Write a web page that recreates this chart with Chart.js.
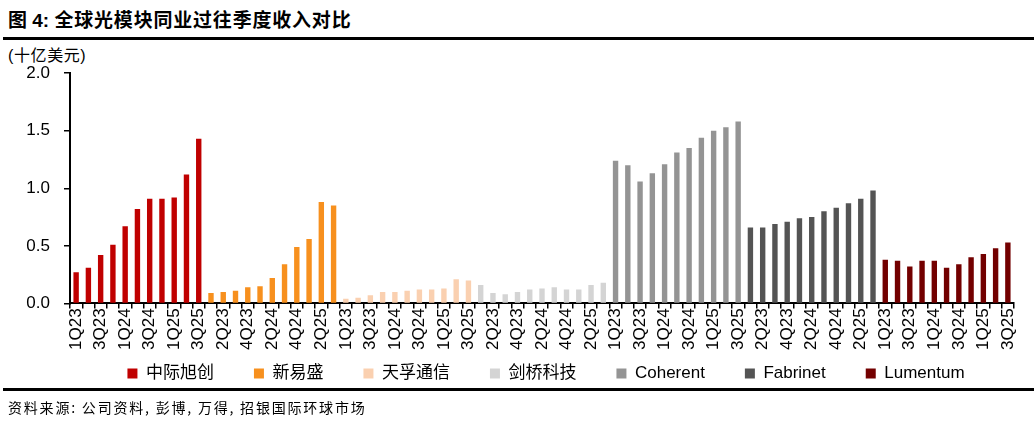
<!DOCTYPE html>
<html>
<head>
<meta charset="utf-8">
<script src="https://cdn.jsdelivr.net/npm/chart.js@4/dist/chart.umd.min.js"></script>
<style>
  body { margin: 0; width: 1034px; height: 429px; overflow: hidden; background: #fff; position: relative; font-family: "Liberation Sans", Arial, sans-serif; }
  #title { position: absolute; left: 8px; top: 5px; font-size: 19px; font-weight: bold; font-family: "Liberation Sans", "Noto Sans CJK SC", sans-serif; }
  #title .cn { font-family: "Noto Sans CJK SC", sans-serif; letter-spacing: 0.8px; }
  .rule { position: absolute; left: 3px; right: 0; height: 3px; background: #000; }
  #unit { position: absolute; left: 8px; top: 42px; font-size: 16px; letter-spacing: 0.6px; font-family: "Liberation Sans", "Noto Sans CJK SC", sans-serif; }
  #source { position: absolute; left: 8px; top: 397px; font-size: 14px; letter-spacing: 1.8px; font-family: "Noto Sans CJK SC", sans-serif; }
  #chart-wrapper { position: absolute; left: 0; top: 49px; width: 1034px; height: 368px; }
</style>
</head>
<body>
<div id="title">图 4: <span class="cn">全球光模块同业过往季度收入对比</span></div>
<div class="rule" style="top:37px"></div>
<div id="unit">(十亿美元)</div>
<div id="chart-wrapper"><canvas id="chart"></canvas></div>
<div class="rule" style="top:388px"></div>
<div id="source">资料来源: 公司资料, 彭博, 万得, 招银国际环球市场</div>
<script>
var quarters = ['1Q23', '2Q23', '3Q23', '4Q23', '1Q24', '2Q24', '3Q24', '4Q24', '1Q25', '2Q25', '3Q25'];
var companies = ['中际旭创', '新易盛', '天孚通信', '剑桥科技', 'Coherent', 'Fabrinet', 'Lumentum'];

// 十亿美元
var innolight = [0.27, 0.31, 0.42, 0.51, 0.67, 0.82, 0.91, 0.91, 0.92, 1.12, 1.43];
var eoptolink = [0.09, 0.10, 0.11, 0.14, 0.15, 0.22, 0.34, 0.49, 0.56, 0.88, 0.85];
var tfc = [0.04, 0.05, 0.07, 0.10, 0.10, 0.11, 0.12, 0.12, 0.13, 0.21, 0.20];
var cigtech = [0.16, 0.09, 0.08, 0.10, 0.12, 0.13, 0.14, 0.12, 0.12, 0.16, 0.18];
var coherent = [1.24, 1.20, 1.06, 1.13, 1.21, 1.31, 1.35, 1.44, 1.50, 1.53, 1.58];
var fabrinet = [0.66, 0.66, 0.69, 0.71, 0.74, 0.75, 0.80, 0.83, 0.87, 0.91, 0.98];
var lumentum = [0.38, 0.37, 0.32, 0.37, 0.37, 0.31, 0.34, 0.40, 0.43, 0.48, 0.53];

var colors = ['#C00000', '#F7901E', '#FAD0B0', '#D4D4D4', '#949494', '#545454', '#730000'];
var series = [innolight, eoptolink, tfc, cigtech, coherent, fabrinet, lumentum];

var labels = [];
companies.forEach(function() { labels = labels.concat(quarters); });

var datasets = series.map(function(values, i) {
  var data = [];
  series.forEach(function(s, j) {
    s.forEach(function(v) { data.push(i === j ? v : null); });
  });
  return {
    label: companies[i],
    data: data,
    backgroundColor: colors[i],
    borderWidth: 0,
    grouped: false,
    barPercentage: 0.44,
    categoryPercentage: 1.0
  };
});

// nudge the legend to where the original sits
var legendShift = {
  id: 'legendShift',
  afterLayout: function(chart) {
    var lg = chart.legend;
    lg.left += 37; lg.right += 37;
    lg.top -= 25; lg.bottom -= 25;
  }
};

var tickFont = { family: '"Liberation Sans", Arial, sans-serif', size: 17 };

var ctx = document.getElementById('chart');
var chart = new Chart(ctx, {
  type: 'bar',
  data: { labels: labels, datasets: datasets },
  plugins: [legendShift],
  options: {
    responsive: true,
    maintainAspectRatio: false,
    animation: false,
    layout: { padding: { top: 2, right: 20, left: 4 } },
    plugins: {
      tooltip: { enabled: false },
      legend: {
        position: 'bottom',
        labels: {
          boxWidth: 10,
          boxHeight: 10,
          padding: 40,
          color: '#000',
          font: { family: '"Liberation Sans", "Noto Sans CJK SC", sans-serif', size: 17 }
        }
      }
    },
    scales: {
      x: {
        grid: { display: true, drawOnChartArea: false, color: '#000', tickLength: 5, lineWidth: 1.5 },
        border: { color: '#000', width: 2 },
        ticks: {
          autoSkip: false,
          maxRotation: 90,
          minRotation: 90,
          padding: 0,
          color: '#000',
          font: tickFont,
          callback: function(v, i) { return i % 2 === 0 ? this.getLabelForValue(v) : ''; }
        }
      },
      y: {
        min: 0,
        max: 2,
        grid: { display: true, drawOnChartArea: false, color: '#000', tickLength: 6, lineWidth: 1.5 },
        border: { color: '#000', width: 2 },
        ticks: {
          stepSize: 0.5,
          padding: 14,
          color: '#000',
          font: tickFont,
          callback: function(v) { return v.toFixed(1); }
        },
        afterFit: function(scale) { scale.width = 66; }
      }
    }
  }
});
</script>
</body>
</html>
